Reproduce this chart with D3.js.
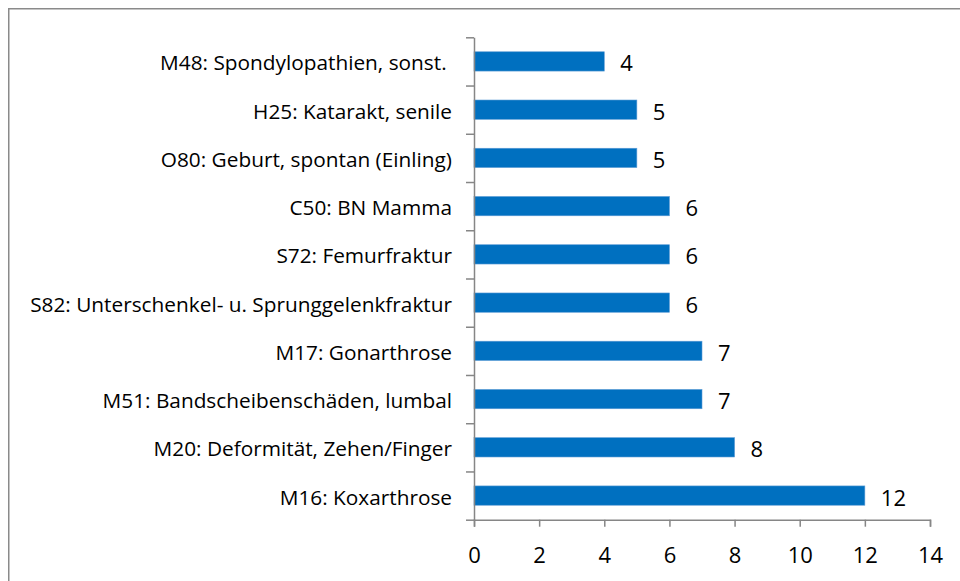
<!DOCTYPE html>
<html>
<head>
<meta charset="utf-8">
<script src="https://cdn.jsdelivr.net/npm/d3@7"></script>
<style>
  body { margin: 0; background: #fff; }
  svg { display: block; }
</style>
</head>
<body>
<div id="chart"></div>
<script>
// categories top to bottom
var kategorien = [
  "M48: Spondylopathien, sonst. ",
  "H25: Katarakt, senile",
  "O80: Geburt, spontan (Einling)",
  "C50: BN Mamma",
  "S72: Femurfraktur",
  "S82: Unterschenkel- u. Sprunggelenkfraktur",
  "M17: Gonarthrose",
  "M51: Bandscheibenschäden, lumbal",
  "M20: Deformität, Zehen/Finger",
  "M16: Koxarthrose"
];
var werte = [4, 5, 5, 6, 6, 6, 7, 7, 8, 12];
var xTicks = [0, 2, 4, 6, 8, 10, 12, 14];

var width = 960, height = 581;
var fontName = "Open Sans, Liberation Sans, sans-serif";
var achsenFarbe = "#868686";

var svg = d3.select("#chart")
  .append("svg")
  .attr("width", width)
  .attr("height", height);

// outer frame (runs off the right and bottom edge)
svg.append("rect")
  .attr("x", 8.75)
  .attr("y", 8.75)
  .attr("width", 1000)
  .attr("height", 1000)
  .attr("fill", "none")
  .attr("stroke", "#8a8a8a")
  .attr("stroke-width", 1.5);

var x = d3.scaleLinear()
  .domain([0, 14])
  .range([474, 930]);

var y = d3.scaleBand()
  .domain(kategorien)
  .range([37.3, 519.7])
  .paddingInner(0.6)
  .paddingOuter(0.3);

// boundaries of the category bands for the tick marks
var yGrenze = d3.scaleLinear()
  .domain([0, kategorien.length])
  .range([37.3, 519.7]);

// bars
svg.selectAll("rect.balken")
  .data(werte)
  .enter()
  .append("rect")
  .attr("class", "balken")
  .attr("x", x(0))
  .attr("y", function(d, i) { return y(kategorien[i]); })
  .attr("width", function(d) { return x(d) - x(0); })
  .attr("height", y.bandwidth())
  .attr("fill", "#0070c0")
  .attr("stroke", "#5b9bd5")
  .attr("stroke-width", 0.6);

// value labels
svg.selectAll("text.wert")
  .data(werte)
  .enter()
  .append("text")
  .attr("class", "wert")
  .attr("x", function(d) { return x(d) + 16; })
  .attr("y", function(d, i) { return y(kategorien[i]) + y.bandwidth() / 2 + 1; })
  .attr("dominant-baseline", "central")
  .attr("font-family", fontName)
  .style("font-size", "22px")
  .attr("fill", "#000")
  .text(function(d) { return d; });

// x axis
var xAxis = svg.append("g")
  .attr("transform", "translate(0,519.7)")
  .call(d3.axisBottom(x)
        .tickValues(xTicks)
        .tickSize(7)
        .tickPadding(21)
        .tickFormat(d3.format("d")));
xAxis.select(".domain").attr("stroke", achsenFarbe).attr("stroke-width", 1.5);
xAxis.selectAll(".tick line").attr("stroke", achsenFarbe).attr("stroke-width", 1.5);
xAxis.selectAll(".tick text")
  .attr("font-family", fontName)
  .style("font-size", "22px")
  .attr("fill", "#000");

// y axis: ticks between categories
var yAxis = svg.append("g")
  .attr("transform", "translate(474,0)")
  .call(d3.axisLeft(yGrenze)
        .tickValues(d3.range(kategorien.length + 1))
        .tickSize(8)
        .tickSizeOuter(0)
        .tickFormat(""));
yAxis.select(".domain").attr("stroke", achsenFarbe).attr("stroke-width", 1.5);
yAxis.selectAll(".tick line").attr("stroke", achsenFarbe).attr("stroke-width", 1.5);

// category labels
svg.selectAll("text.kategorie")
  .data(kategorien)
  .enter()
  .append("text")
  .attr("class", "kategorie")
  .attr("x", 452)
  .attr("y", function(d) { return y(d) + y.bandwidth() / 2 + 1; })
  .attr("text-anchor", "end")
  .attr("dominant-baseline", "central")
  .attr("font-family", fontName)
  .style("font-size", "20.8px")
  .style("white-space", "pre")
  .attr("fill", "#000")
  .text(function(d) { return d; });
</script>
</body>
</html>
